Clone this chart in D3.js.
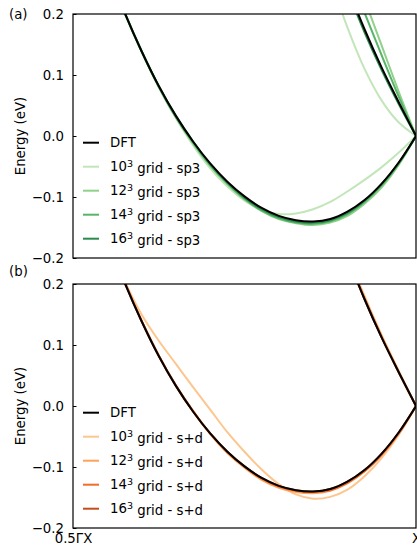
<!DOCTYPE html>
<html><head><meta charset="utf-8">
<script src="https://cdn.jsdelivr.net/npm/d3@7"></script>
<style>
body{margin:0;background:#fff}
svg{display:block}
text{font-family:"DejaVu Sans",sans-serif;fill:#000}
</style>
</head><body>
<svg id="c" width="417" height="547"></svg>
<script>
// k along Gamma-X (fraction), lower band and upper band samples
const kLow = [0.550,0.575,0.600,0.625,0.650,0.675,0.700,0.725,0.750,0.775,0.800,0.825,0.850,0.875,0.900,0.925,0.950,0.975,1.000];
const kUp  = [0.875,0.900,0.925,0.950,0.975,1.000];

const yTicks = [-0.2,-0.1,0.0,0.1,0.2];
const xTickValues = [0.5,1.0];
const xTickLabels = ["0.5ΓX","X"];
const panelLabels = ["(a)","(b)"];
const gridSizes = ["10","12","14","16"];
const suffixes = ["sp3","s+d"];
const greens  = ["#c2e6ba","#90d18c","#56b567","#2b8a4c"];
const oranges = ["#fdc68f","#fda35c","#ee6d28","#c24e1c"];

// DFT reference (same in both panels)
const dftLow = [0.275,0.203,0.139,0.082,0.033,-0.009,-0.045,-0.075,-0.099,-0.118,-0.131,-0.138,-0.140,-0.136,-0.124,-0.105,-0.078,-0.043,0.000];
const dftUp  = [0.320,0.245,0.175,0.112,0.055,0.000];

// panel (a): sp3
const sp3Low10 = [0.272,0.204,0.140,0.082,0.030,-0.015,-0.053,-0.083,-0.106,-0.121,-0.128,-0.127,-0.120,-0.108,-0.091,-0.072,-0.051,-0.027,0.000];
const sp3Up10  = [0.260,0.178,0.110,0.058,0.022,0.000];
const sp3Low12 = [0.274,0.202,0.138,0.080,0.030,-0.012,-0.049,-0.079,-0.104,-0.123,-0.136,-0.143,-0.146,-0.142,-0.131,-0.111,-0.084,-0.047,0.000];
const sp3Up12  = [0.380,0.300,0.224,0.148,0.072,0.000];
const sp3Low14 = [0.275,0.203,0.139,0.081,0.031,-0.011,-0.048,-0.078,-0.103,-0.122,-0.135,-0.142,-0.144,-0.140,-0.128,-0.108,-0.081,-0.045,0.000];
const sp3Up14  = [0.350,0.275,0.202,0.132,0.064,0.000];
const sp3Low16 = [0.275,0.203,0.139,0.082,0.033,-0.009,-0.046,-0.076,-0.101,-0.120,-0.133,-0.140,-0.142,-0.138,-0.126,-0.106,-0.079,-0.044,0.000];
const sp3Up16  = [0.315,0.240,0.170,0.108,0.052,0.000];

// panel (b): s+d
const sdLow10 = [0.270,0.205,0.150,0.107,0.069,0.031,-0.006,-0.043,-0.075,-0.104,-0.128,-0.145,-0.152,-0.149,-0.137,-0.115,-0.085,-0.047,0.000];
const sdUp10  = [0.325,0.250,0.180,0.116,0.057,0.000];
const sdLow12 = [0.277,0.205,0.140,0.083,0.033,-0.009,-0.046,-0.077,-0.101,-0.121,-0.134,-0.141,-0.143,-0.139,-0.127,-0.107,-0.080,-0.044,0.000];
const sdUp12  = [0.322,0.248,0.178,0.114,0.056,0.000];
const sdLow14 = [0.276,0.204,0.140,0.083,0.034,-0.008,-0.045,-0.075,-0.099,-0.119,-0.132,-0.139,-0.141,-0.138,-0.126,-0.107,-0.080,-0.045,0.000];
const sdUp14  = [0.321,0.246,0.176,0.113,0.055,0.000];
const sdLow16 = [0.275,0.203,0.139,0.082,0.033,-0.009,-0.045,-0.075,-0.099,-0.118,-0.131,-0.138,-0.140,-0.136,-0.124,-0.105,-0.078,-0.043,0.000];
const sdUp16  = [0.320,0.245,0.175,0.112,0.055,0.000];

const panels = [
  {label:panelLabels[0], suffix:suffixes[0], colors:greens,
   low:[sp3Low10,sp3Low12,sp3Low14,sp3Low16], up:[sp3Up10,sp3Up12,sp3Up14,sp3Up16]},
  {label:panelLabels[1], suffix:suffixes[1], colors:oranges,
   low:[sdLow10,sdLow12,sdLow14,sdLow16], up:[sdUp10,sdUp12,sdUp14,sdUp16]}
];

const svg = d3.select("#c");
const FS = "13.3px";
const L = 73, R = 416, H = 244;
const tops = [14, 284];
const labelY = [18.5, 276];
const x = d3.scaleLinear().domain([0.5,1.0]).range([L,R]);

panels.forEach((p,i)=>{
  const top = tops[i], bot = top + H;
  const y = d3.scaleLinear().domain([-0.2,0.2]).range([bot,top]);
  const g = svg.append("g");
  const cid = "clip"+i;
  g.append("clipPath").attr("id",cid).append("rect")
    .attr("x",L).attr("y",top).attr("width",R-L).attr("height",H);

  const line = d3.line().x(d=>x(d[0])).y(d=>y(d[1])).curve(d3.curveCatmullRom.alpha(0.5));
  const plot = g.append("g").attr("clip-path",`url(#${cid})`);

  p.low.forEach((arr,j)=>{
    plot.append("path").attr("d",line(kLow.map((k,m)=>[k,arr[m]])))
      .attr("fill","none").attr("stroke",p.colors[j]).attr("stroke-width",2);
    plot.append("path").attr("d",line(kUp.map((k,m)=>[k,p.up[j][m]])))
      .attr("fill","none").attr("stroke",p.colors[j]).attr("stroke-width",2);
  });
  plot.append("path").attr("d",line(kLow.map((k,m)=>[k,dftLow[m]])))
    .attr("fill","none").attr("stroke","#000").attr("stroke-width",2);
  plot.append("path").attr("d",line(kUp.map((k,m)=>[k,dftUp[m]])))
    .attr("fill","none").attr("stroke","#000").attr("stroke-width",2);

  // y axis
  const ya = g.append("g").attr("transform",`translate(${L},0)`)
    .call(d3.axisLeft(y).tickValues(yTicks).tickFormat(d3.format(".1f"))
      .tickSizeInner(-3.5).tickSizeOuter(0).tickPadding(9));
  ya.select(".domain").remove();
  ya.selectAll("line").attr("stroke","#000").attr("stroke-width",1);
  ya.selectAll("text").style("font-size",FS).style("font-family","DejaVu Sans");

  if(i===1){
    const xa = g.append("g").attr("transform",`translate(0,${bot})`)
      .call(d3.axisBottom(x).tickValues(xTickValues).tickFormat((d,k)=>xTickLabels[k])
        .tickSizeInner(0).tickSizeOuter(0).tickPadding(6));
    xa.select(".domain").remove();
    xa.selectAll("line").remove();
    xa.selectAll("text").style("font-size",FS).style("font-family","DejaVu Sans");
  }

  // spines
  g.append("rect").attr("x",L).attr("y",top).attr("width",R-L).attr("height",H)
    .attr("fill","none").attr("stroke","#000").attr("stroke-width",1.2);

  // y label
  g.append("text").attr("transform",`translate(25,${(top+bot)/2}) rotate(-90)`)
    .attr("text-anchor","middle").style("font-size",FS).text("Energy (eV)");
  // panel label
  g.append("text").attr("x",9).attr("y",labelY[i]).style("font-size",FS).text(p.label);

  // legend
  const entries = [{name:"DFT",color:"#000",sup:null}].concat(
    gridSizes.map((s,j)=>({name:s,color:p.colors[j],sup:"3"})));
  const lg = g.append("g");
  const rows = lg.selectAll("g").data(entries).join("g")
    .attr("transform",(d,j)=>`translate(0,${top + 128.7 + j*24})`);
  rows.append("line").attr("x1",83).attr("x2",99).attr("y1",0).attr("y2",0)
    .attr("stroke",d=>d.color).attr("stroke-width",2);
  const tx = rows.append("text").attr("x",110).attr("y",0).attr("dy","0.36em").style("font-size",FS);
  tx.each(function(d){
    const t = d3.select(this);
    if(!d.sup){ t.text(d.name); return; }
    t.append("tspan").text(d.name);
    t.append("tspan").attr("dy","-0.45em").style("font-size","9.5px").text(d.sup);
    t.append("tspan").attr("dy","0.45em").text(" grid - "+p.suffix);
  });
});
</script>
</body></html>
